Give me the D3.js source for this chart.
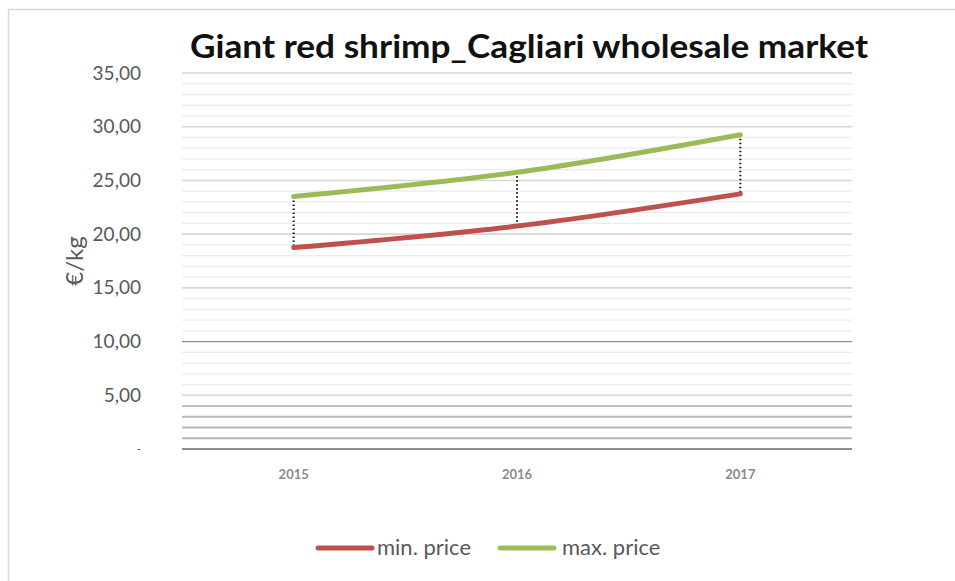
<!DOCTYPE html>
<html>
<head>
<meta charset="utf-8">
<script src="https://cdn.jsdelivr.net/npm/d3@7"></script>
<style>
  html, body { margin: 0; padding: 0; background: #fff; }
  svg { display: block; font-family: Lato, "Open Sans", sans-serif; }
</style>
</head>
<body>
<svg id="chart" width="955" height="581"></svg>
<script>
// Giant red shrimp prices, Cagliari wholesale market (€/kg)
const years = ["2015", "2016", "2017"];
const minPrice = [18.75, 20.75, 23.75];
const maxPrice = [23.5, 25.75, 29.25];
const yTicks = [0, 5, 10, 15, 20, 25, 30, 35];
const seriesNames = ["min. price", "max. price"];

const svg = d3.select("#chart");
const W = 955, H = 581;
const plot = { left: 182, right: 852, top: 73, bottom: 449 };

// chart area border
svg.append("rect")
  .attr("x", 8.5).attr("y", 9.5)
  .attr("width", W + 10).attr("height", H + 10)
  .attr("fill", "#fff").attr("stroke", "#d9d9d9").attr("stroke-width", 1.5);

const x = d3.scaleBand().domain(years).range([plot.left, plot.right]);
const y = d3.scaleLinear().domain([0, 35]).range([plot.bottom, plot.top]);

// gridlines: minor every 1, major every 5
const grid = svg.append("g");
d3.range(0, 36).forEach(v => {
  const major = v % 5 === 0;
  let color = major ? "#d6d6d6" : "#ececec";
  let width = major ? 1.6 : 1.3;
  if (v <= 4) { color = v === 0 ? "#8c8c8c" : "#b8b8b8"; width = 1.8; }
  if (v === 10) { color = "#8f8f8f"; width = 1.2; }
  if (v === 5) { color = "#dcdcdc"; width = 2; }
  grid.append("line")
    .attr("x1", plot.left).attr("x2", plot.right)
    .attr("y1", y(v)).attr("y2", y(v))
    .attr("stroke", color).attr("stroke-width", width);
});

// y axis labels
const yAxis = d3.axisLeft(y).tickValues(yTicks).tickSize(0).tickPadding(0)
  .tickFormat(d => d === 0 ? "-" : d3.format(".2f")(d).replace(".", ","));
const gy = svg.append("g").attr("transform", `translate(141,0)`).call(yAxis);
gy.select(".domain").remove();
gy.selectAll("text")
  .attr("fill", "#595959").attr("font-size", d => d === 0 ? 11 : 19)
  .attr("font-family", "Lato, sans-serif");

// x axis labels
const xAxis = d3.axisBottom(x).tickSize(0).tickPadding(0);
const gx = svg.append("g").attr("transform", `translate(0,${plot.bottom + 21})`).call(xAxis);
gx.select(".domain").remove();
gx.selectAll("text")
  .attr("fill", "#8a8a8a").attr("font-size", 13).attr("font-weight", "bold")
  .attr("font-family", "Lato, sans-serif");

// axis title
svg.append("text")
  .attr("transform", `translate(83,${(plot.top + plot.bottom) / 2}) rotate(-90)`)
  .attr("text-anchor", "middle")
  .attr("fill", "#595959").attr("font-size", 24)
  .text("€/kg");

// chart title
svg.append("text")
  .attr("x", 529).attr("y", 58)
  .attr("text-anchor", "middle")
  .attr("font-size", 32).attr("font-weight", "bold").attr("fill", "#111")
  .attr("textLength", 678).attr("lengthAdjust", "spacingAndGlyphs")
  .text("Giant red shrimp_Cagliari wholesale market");

const cx = d => x(d) + x.bandwidth() / 2;

// drop lines between min and max
svg.append("g").selectAll("line").data(years).join("line")
  .attr("x1", cx).attr("x2", cx)
  .attr("y1", (d, i) => y(maxPrice[i])).attr("y2", (d, i) => y(minPrice[i]))
  .attr("stroke", "#111").attr("stroke-width", 2).attr("stroke-dasharray", "1.5,2.5");

const line = d3.line().x((d, i) => cx(years[i])).y(d => y(d)).curve(d3.curveCatmullRom.alpha(0.5));
const colors = ["#c0504d", "#9bbb59"];
[minPrice, maxPrice].forEach((s, k) => {
  svg.append("path").datum(s)
    .attr("d", line).attr("fill", "none")
    .attr("stroke", colors[k]).attr("stroke-width", 5).attr("stroke-linecap", "round");
});

// legend
const legend = svg.append("g");
const legendPos = [{ x: 318, tx: 377 }, { x: 500, tx: 562 }];
seriesNames.forEach((name, k) => {
  legend.append("line")
    .attr("x1", legendPos[k].x).attr("x2", legendPos[k].x + 54)
    .attr("y1", 548).attr("y2", 548)
    .attr("stroke", colors[k]).attr("stroke-width", 5).attr("stroke-linecap", "round");
  legend.append("text")
    .attr("x", legendPos[k].tx).attr("y", 555)
    .attr("fill", "#595959").attr("font-size", 22)
    .text(name);
});
</script>
</body>
</html>
